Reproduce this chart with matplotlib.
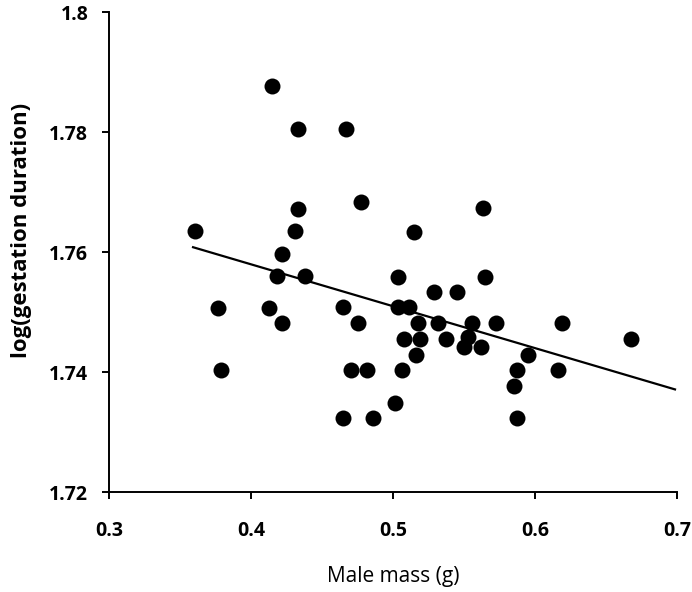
import matplotlib
matplotlib.use("Agg")
import matplotlib.pyplot as plt

# Valores
male_mass = [0.3603, 0.377, 0.3789, 0.4127, 0.4146, 0.4181, 0.4216, 0.4218,
             0.4308, 0.4331, 0.4333, 0.4383, 0.465, 0.465, 0.4669, 0.4704,
             0.4751, 0.4775, 0.4815, 0.4862, 0.5017, 0.5037, 0.5037, 0.5063,
             0.508, 0.5115, 0.5148, 0.5162, 0.5174, 0.519, 0.5289, 0.5319,
             0.5373, 0.5449, 0.55, 0.553, 0.5559, 0.562, 0.5632, 0.5648,
             0.5723, 0.5855, 0.5875, 0.5875, 0.5951, 0.616, 0.6188, 0.6674]
log_gestation = [1.7635, 1.7507, 1.7403, 1.7507, 1.7877, 1.756, 1.7481, 1.7597,
                 1.7635, 1.7805, 1.7672, 1.756, 1.7508, 1.7324, 1.7805, 1.7403,
                 1.7481, 1.7684, 1.7403, 1.7324, 1.7349, 1.7559, 1.7508, 1.7403,
                 1.7455, 1.7508, 1.7634, 1.7429, 1.7481, 1.7455, 1.7533, 1.7481,
                 1.7455, 1.7533, 1.7442, 1.7459, 1.7481, 1.7442, 1.7673, 1.7559,
                 1.7481, 1.7376, 1.7403, 1.7324, 1.7429, 1.7403, 1.7481, 1.7455]

# Linha de tendência (extremos lidos)
trend_x = [0.3592, 0.6986]
trend_y = [1.7608, 1.7371]

x_ticks = [0.3, 0.4, 0.5, 0.6, 0.7]
y_ticks = [1.72, 1.74, 1.76, 1.78, 1.8]

plt.rcParams['font.family'] = ['Open Sans', 'DejaVu Sans']

fig = plt.figure(figsize=(6.92, 5.92), dpi=100)
ax = fig.add_axes([0.1575, 0.1689, 0.8208, 0.8108])

ax.plot(trend_x, trend_y, color='black', linewidth=1.6, zorder=2)
ax.plot(male_mass, log_gestation, 'o', color='black', markersize=11.5,
        markeredgewidth=0, zorder=3)

ax.set_xlim(0.3, 0.7)
ax.set_ylim(1.72, 1.8)
ax.set_xticks(x_ticks)
ax.set_xticklabels(['0.3', '0.4', '0.5', '0.6', '0.7'])
ax.set_yticks(y_ticks)
ax.set_yticklabels(['1.72', '1.74', '1.76', '1.78', '1.8'])

for s in ['top', 'right']:
    ax.spines[s].set_visible(False)
for s in ['left', 'bottom']:
    ax.spines[s].set_linewidth(1.4)

ax.tick_params(axis='both', direction='out', length=5, width=1.4,
               labelsize=14)
ax.tick_params(axis='x', pad=16)
ax.tick_params(axis='y', pad=10)
for lbl in ax.get_xticklabels() + ax.get_yticklabels():
    lbl.set_fontweight('bold')

ax.set_xlabel('Male mass (g)', fontsize=15)
ax.set_ylabel('log(gestation duration)', fontsize=16, fontweight='bold')
ax.xaxis.set_label_coords(0.5, -0.155)
ax.yaxis.set_label_coords(-0.135, 0.545)

fig.savefig('out.png', dpi=100)
